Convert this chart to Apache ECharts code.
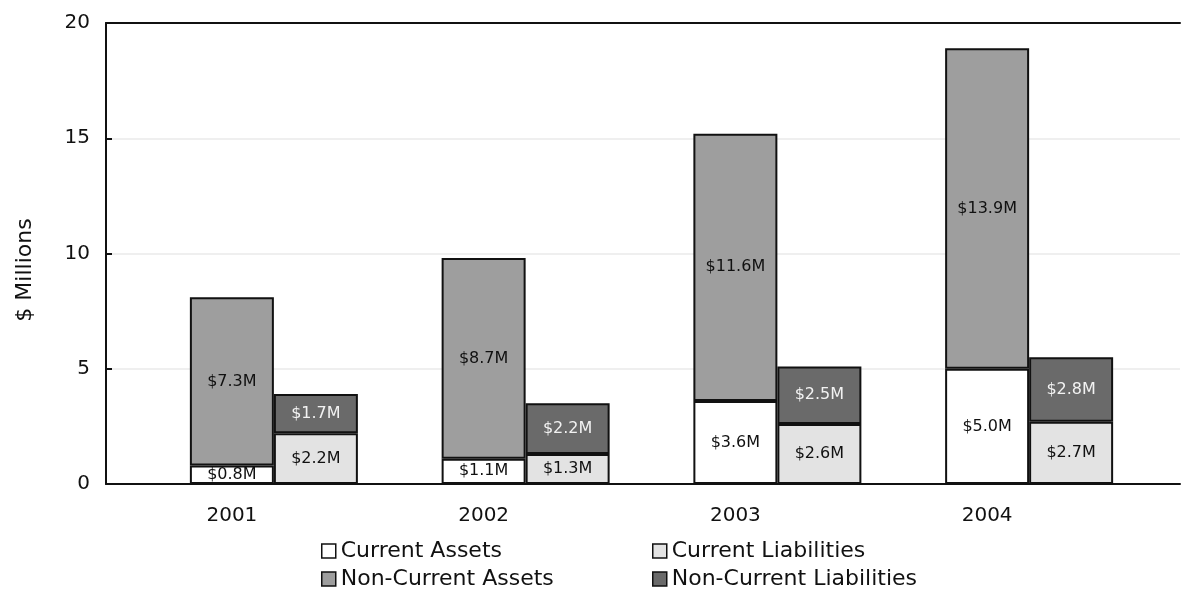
<!DOCTYPE html>
<html>
<head>
<meta charset="utf-8">
<script src="https://cdn.jsdelivr.net/npm/echarts@6/dist/echarts.min.js"></script>
<style>
  html, body { margin: 0; padding: 0; background: #fff; }
  #chart { width: 1181px; height: 603px; }
</style>
</head>
<body>
<div id="chart"></div>
<script>
// Balance sheet composition by year ($ millions)
var years = ['2001', '2002', '2003', '2004'];
var currentAssets = [0.8, 1.1, 3.6, 5.0];
var nonCurrentAssets = [7.3, 8.7, 11.6, 13.9];
var currentLiabilities = [2.2, 1.3, 2.6, 2.7];
var nonCurrentLiabilities = [1.7, 2.2, 2.5, 2.8];

var yTicks = { min: 0, max: 20, interval: 5 };

var FONT = "'DejaVu Sans', Verdana, sans-serif";
var colors = {
  ca: '#ffffff',
  cl: '#e3e3e3',
  nca: '#9e9e9e',
  ncl: '#6a6a6a'
};

function money(p) { return '$' + p.value.toFixed(1) + 'M'; }

function barSeries(name, data, stack, color, labelColor) {
  return {
    name: name,
    type: 'bar',
    xAxisIndex: 2,
    yAxisIndex: 1,
    stack: stack,
    data: data,
    barWidth: 84,
    barGap: '0%',
    itemStyle: { color: color, borderColor: '#111', borderWidth: 2 },
    label: {
      show: true,
      position: 'inside',
      formatter: money,
      color: labelColor,
      fontFamily: FONT,
      fontSize: 16
    }
  };
}

// one legend block per entry, laid out as a 2 x 2 table
function legendItem(name, left, top) {
  return {
    data: [name],
    left: left,
    top: top,
    itemWidth: 14,
    itemHeight: 14,
    icon: 'rect',
    itemStyle: { borderColor: '#111', borderWidth: 1.5 },
    textStyle: { fontFamily: FONT, fontSize: 22, color: '#111' }
  };
}

var chart = echarts.init(document.getElementById('chart'), null, { renderer: 'canvas' });

chart.setOption({
  animation: false,
  backgroundColor: '#ffffff',
  grid: [
    { left: 106, right: 1, top: 23, bottom: 119 },
    { left: 148, right: 26, top: 23, bottom: 119 }
  ],
  legend: [
    legendItem('Current Assets', 316, 535),
    legendItem('Current Liabilities', 647, 535),
    legendItem('Non-Current Assets', 316, 563),
    legendItem('Non-Current Liabilities', 647, 563)
  ],
  xAxis: [
    // frame: bottom baseline
    {
      gridIndex: 0, type: 'value', min: 0, max: 1, position: 'bottom',
      axisLine: { show: true, lineStyle: { color: '#111', width: 2 } },
      axisTick: { show: false }, axisLabel: { show: false }, splitLine: { show: false }
    },
    // frame: top border
    {
      gridIndex: 0, type: 'value', min: 0, max: 1, position: 'top',
      axisLine: { show: true, lineStyle: { color: '#111', width: 2 } },
      axisTick: { show: false }, axisLabel: { show: false }, splitLine: { show: false }
    },
    // year categories for the bars
    {
      gridIndex: 1, type: 'category', data: years,
      axisLine: { show: false }, axisTick: { show: false },
      axisLabel: {
        margin: 22,
        fontFamily: FONT, fontSize: 20, color: '#111',
        padding: [0, 84, 0, 0]
      }
    }
  ],
  yAxis: [
    {
      gridIndex: 0, type: 'value',
      min: yTicks.min, max: yTicks.max, interval: yTicks.interval,
      name: '$ Millions',
      nameLocation: 'middle',
      nameGap: 70,
      nameRotate: 90,
      nameTextStyle: { fontFamily: FONT, fontSize: 22, color: '#111', padding: [0, 33, 0, 0] },
      axisLine: { show: true, lineStyle: { color: '#111', width: 2 } },
      axisTick: { show: true, inside: true, length: 6, lineStyle: { color: '#111', width: 2 } },
      axisLabel: { margin: 16, fontFamily: FONT, fontSize: 20, color: '#111' },
      splitLine: { show: true, lineStyle: { color: '#efefef', width: 2 } }
    },
    {
      gridIndex: 1, type: 'value',
      min: yTicks.min, max: yTicks.max, interval: yTicks.interval,
      show: false
    }
  ],
  series: [
    barSeries('Current Assets', currentAssets, 'assets', colors.ca, '#111'),
    barSeries('Current Liabilities', currentLiabilities, 'liabilities', colors.cl, '#111'),
    barSeries('Non-Current Assets', nonCurrentAssets, 'assets', colors.nca, '#111'),
    barSeries('Non-Current Liabilities', nonCurrentLiabilities, 'liabilities', colors.ncl, '#f2f2f2')
  ]
});
</script>
</body>
</html>
